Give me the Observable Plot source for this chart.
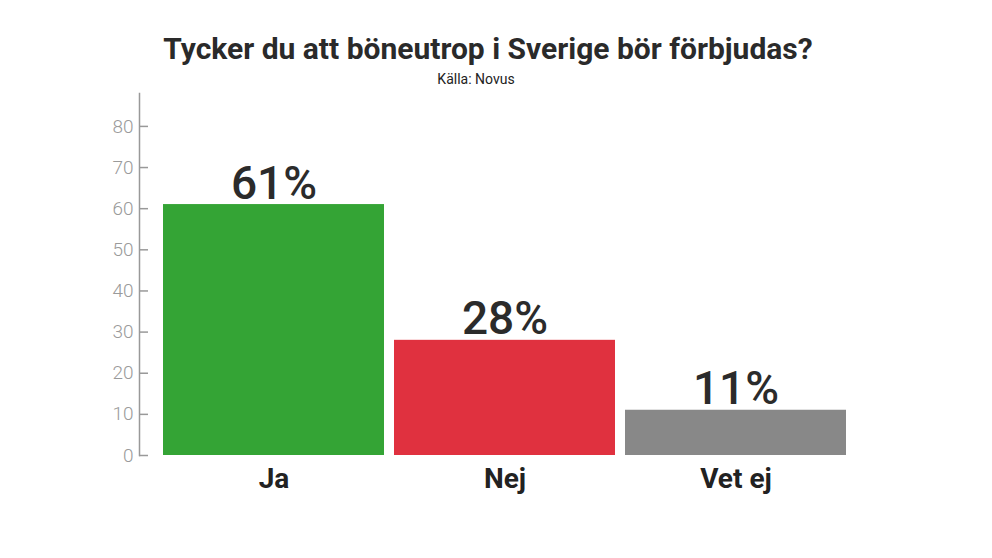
<!DOCTYPE html>
<html>
<head>
<meta charset="utf-8">
<script src="https://cdn.jsdelivr.net/npm/d3@7"></script>
<script src="https://cdn.jsdelivr.net/npm/@observablehq/plot@0.6"></script>
<style>
  html, body { margin: 0; padding: 0; background: #fff; }
  #wrap { position: relative; width: 992px; height: 558px; overflow: hidden; }
  #title { position: absolute; left: 0; width: 976px; top: 34px; text-align: center;
    font-family: "Liberation Sans Narrow", "Roboto", sans-serif; font-weight: 700; font-size: 30px; line-height: 30px; color: #2a2a2a; }
  #sub { position: absolute; left: 0; width: 952px; top: 72px; text-align: center;
    font-family: "Roboto", sans-serif; font-size: 14px; line-height: 14px; color: #222; }
  #chart { position: absolute; left: 0; top: 0; }
</style>
</head>
<body>
<div id="wrap">
  <div id="chart"></div>
  <div id="title">Tycker du att böneutrop i Sverige bör förbjudas?</div>
  <div id="sub">Källa: Novus</div>
</div>
<script>
const categories = ["Ja", "Nej", "Vet ej"];
const values = [61, 28, 11];
const colors = ["#34a435", "#e0313f", "#888888"];
const labels = ["61%", "28%", "11%"];
const yTicks = [0, 10, 20, 30, 40, 50, 60, 70, 80];

const data = categories.map((c, i) => ({category: c, value: values[i], color: colors[i], label: labels[i]}));

const chart = Plot.plot({
  width: 992,
  height: 558,
  marginTop: 93,
  marginBottom: 103,
  marginLeft: 139,
  marginRight: 0,
  style: {fontFamily: "Roboto, sans-serif", background: "transparent"},
  x: {domain: categories, range: [151.6, 856.5], padding: 0.045, label: null},
  y: {domain: [0, 88], label: null},
  marks: [
    Plot.barY(data, {x: "category", y: "value", fill: "color"}),
    Plot.frame({anchor: "left", stroke: "#999", strokeWidth: 1.5}),
    Plot.axisY({ticks: yTicks, tickSize: 9, dx: 9, tickFormat: () => "", stroke: "#999", strokeWidth: 1.5, label: null}),
    Plot.axisY({ticks: yTicks, tickSize: 0, tickPadding: 6, fontSize: 19, fontWeight: 300, fill: "#9a9a9a", label: null}),
    Plot.axisX({tickSize: 0, tickPadding: 13, fontSize: 28, fontWeight: 700, fill: "#222", label: null}),
    Plot.text(data, {x: "category", y: "value", text: "label", lineAnchor: "bottom", dy: -6, fontSize: 46, fontWeight: 500, fill: "#2b2b2b"})
  ]
});
document.getElementById("chart").appendChild(chart);
</script>
</body>
</html>
